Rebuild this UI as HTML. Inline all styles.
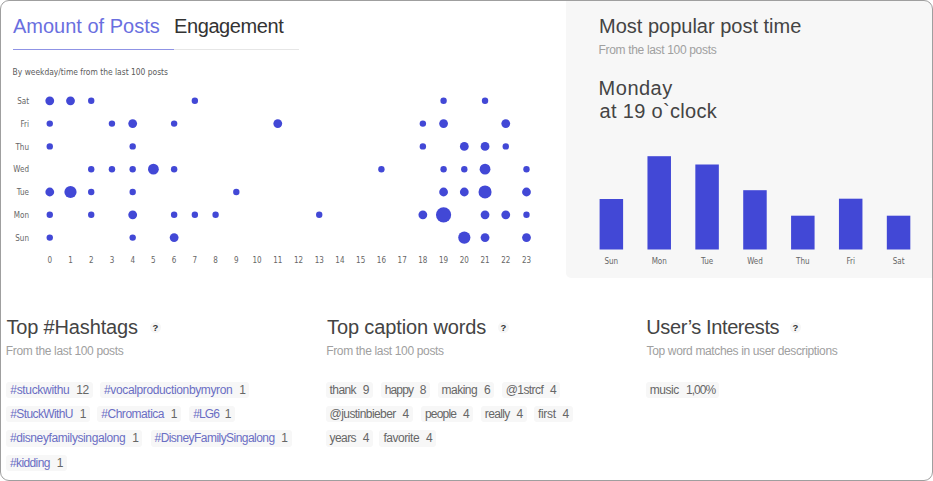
<!DOCTYPE html>
<html><head><meta charset="utf-8">
<style>
*{margin:0;padding:0;box-sizing:border-box}
html,body{width:933px;height:481px;overflow:hidden;background:#fff}
body{font-family:"Liberation Sans",Arial,sans-serif;position:relative}
.card{position:absolute;left:0;top:0;width:933px;height:481px;border-radius:9px;overflow:hidden;background:#fff}
.bord{position:absolute;left:0;top:0;width:933px;height:481px;border:1px solid #9f9f9f;border-radius:9px}
.abs{position:absolute;white-space:nowrap}
.uline{left:13px;top:49px;height:1px;width:286px;background:#e6e6e6}
.uline2{left:13px;top:49px;height:1px;width:161px;background:#8f93e5}
.gray{left:565.5px;top:0;width:368px;height:278.3px;background:#f7f7f7;border-bottom-left-radius:5px}
.t20{font-size:20px;line-height:20px}
.t12{font-size:12px;line-height:12px}
.blue{color:#6a6fe0}
.dark{color:#333}
.h{color:#444}
.sub{color:#a0a0a0}
.q{width:11px;height:11px;border-radius:50%;background:#f6f6f6;color:#333;font-size:9.5px;font-weight:bold;text-align:center;line-height:11.5px}
.tag{position:absolute;height:16.4px;background:#f7f7f7;border-radius:3px;padding:0 4px;font-size:12px;letter-spacing:-0.45px;line-height:16.4px;color:#666;white-space:nowrap;display:flex;justify-content:space-between}
.tag.ht{color:#6a6ec4}
.tag .n{color:#666}
svg text{font-family:"DejaVu Sans Condensed","DejaVu Sans",sans-serif}
svg text.dj{font-family:"DejaVu Sans",sans-serif}
</style></head><body>
<div class="card">
  <div class="abs gray"></div>
  <div class="abs t20 blue" id="tab1" style="left:13px;top:16.27px">Amount of Posts</div>
  <div class="abs t20 dark" id="tab2" style="letter-spacing:-0.4px;left:174px;top:16.27px">Engagement</div>
  <div class="abs uline"></div>
  <div class="abs uline2"></div>

  <div class="abs t20 h" id="mp" style="left:599px;top:16.27px">Most popular post time</div>
  <div class="abs t12 sub" id="mps" style="letter-spacing:-0.33px;left:598.5px;top:43.54px">From the last 100 posts</div>
  <div class="abs t20 h" id="mon1" style="letter-spacing:0.5px;left:598.6px;top:78.07px">Monday</div>
  <div class="abs t20 h" id="mon2" style="letter-spacing:0.33px;left:599.5px;top:100.67px">at 19 o`clock</div>

  <div class="abs t20 h" id="h_hash" style="letter-spacing:-0.15px;left:6.4px;top:317.2px">Top #Hashtags</div>
  <div class="abs q" style="left:149.9px;top:322.3px">?</div>
  <div class="abs t12 sub" id="s_hash" style="letter-spacing:-0.34px;left:5.8px;top:344.84px">From the last 100 posts</div>
  <div class="abs t20 h" id="h_cap" style="letter-spacing:-0.12px;left:327px;top:317.2px">Top caption words</div>
  <div class="abs q" style="left:497.9px;top:322.3px">?</div>
  <div class="abs t12 sub" id="s_cap" style="letter-spacing:-0.34px;left:326.2px;top:344.84px">From the last 100 posts</div>
  <div class="abs t20 h" id="h_int" style="letter-spacing:-0.4px;left:646.3px;top:317.2px">User’s Interests</div>
  <div class="abs q" style="left:790px;top:322.3px">?</div>
  <div class="abs t12 sub" id="s_int" style="letter-spacing:-0.36px;left:646.6px;top:344.84px">Top word matches in user descriptions</div>

  <div class="tag ht" style="left:6.3px;top:381.7px;width:86.4px"><span style="letter-spacing:-0.324px">#stuckwithu</span><span class="n">12</span></div>
  <div class="tag ht" style="left:100px;top:381.7px;width:149.4px"><span style="letter-spacing:-0.365px">#vocalproductionbymyron</span><span class="n">1</span></div>
  <div class="tag ht" style="left:6.3px;top:405.9px;width:83.6px"><span style="letter-spacing:-0.618px">#StuckWithU</span><span class="n">1</span></div>
  <div class="tag ht" style="left:97.3px;top:405.9px;width:83.8px"><span style="letter-spacing:-0.479px">#Chromatica</span><span class="n">1</span></div>
  <div class="tag ht" style="left:189.3px;top:405.9px;width:45.6px"><span style="letter-spacing:-0.9px">#LG6</span><span class="n">1</span></div>
  <div class="tag ht" style="left:5.9px;top:430.3px;width:136.5px"><span style="letter-spacing:-0.392px">#disneyfamilysingalong</span><span class="n">1</span></div>
  <div class="tag ht" style="left:150.5px;top:430.3px;width:141.1px"><span style="letter-spacing:-0.546px">#DisneyFamilySingalong</span><span class="n">1</span></div>
  <div class="tag ht" style="left:5.9px;top:454.6px;width:61.0px"><span style="letter-spacing:-0.593px">#kidding</span><span class="n">1</span></div>
  <div class="tag" style="left:325.6px;top:381.7px;width:47.4px"><span style="letter-spacing:-0.601px">thank</span><span class="n">9</span></div>
  <div class="tag" style="left:380.8px;top:381.7px;width:49.3px"><span style="letter-spacing:-0.888px">happy</span><span class="n">8</span></div>
  <div class="tag" style="left:437.6px;top:381.7px;width:56.6px"><span style="letter-spacing:-0.521px">making</span><span class="n">6</span></div>
  <div class="tag" style="left:501.7px;top:381.7px;width:58.5px"><span style="letter-spacing:-0.580px">@1strcf</span><span class="n">4</span></div>
  <div class="tag" style="left:325.6px;top:405.9px;width:87.2px"><span style="letter-spacing:-0.569px">@justinbieber</span><span class="n">4</span></div>
  <div class="tag" style="left:420.9px;top:405.9px;width:52.4px"><span style="letter-spacing:-0.781px">people</span><span class="n">4</span></div>
  <div class="tag" style="left:480.8px;top:405.9px;width:46.0px"><span style="letter-spacing:-0.620px">really</span><span class="n">4</span></div>
  <div class="tag" style="left:534px;top:405.9px;width:38.8px"><span style="letter-spacing:-0.316px">first</span><span class="n">4</span></div>
  <div class="tag" style="left:325.6px;top:430.3px;width:47.4px"><span style="letter-spacing:-0.601px">years</span><span class="n">4</span></div>
  <div class="tag" style="left:379.4px;top:430.3px;width:56.8px"><span style="letter-spacing:-0.450px">favorite</span><span class="n">4</span></div>
  <div class="tag" style="left:645.8px;top:381.7px;width:73.4px"><span style="letter-spacing:-0.45px">music</span><span class="n" style="letter-spacing:-0.95px">1,00%</span></div>
</div>
<svg id="chart" width="933" height="481" style="position:absolute;left:0;top:0">
<text x="12.6" y="74.7" font-size="8.2" fill="#5a5a5a" class="dj" textLength="155.4" lengthAdjust="spacingAndGlyphs">By weekday/time from the last 100 posts</text>
<text x="29" y="104.0" font-size="8" fill="#666" text-anchor="end">Sat</text>
<circle cx="49.77" cy="100.79" r="4.4" fill="#4248d6"/>
<circle cx="70.50" cy="100.79" r="4.4" fill="#4248d6"/>
<circle cx="91.22" cy="100.79" r="3.2" fill="#4248d6"/>
<circle cx="194.86" cy="100.79" r="3.2" fill="#4248d6"/>
<circle cx="443.58" cy="100.79" r="3.2" fill="#4248d6"/>
<circle cx="485.04" cy="100.79" r="3.2" fill="#4248d6"/>
<text x="29" y="126.8" font-size="8" fill="#666" text-anchor="end">Fri</text>
<circle cx="49.77" cy="123.59" r="3.2" fill="#4248d6"/>
<circle cx="111.95" cy="123.59" r="3.2" fill="#4248d6"/>
<circle cx="132.68" cy="123.59" r="4.4" fill="#4248d6"/>
<circle cx="174.13" cy="123.59" r="3.2" fill="#4248d6"/>
<circle cx="277.77" cy="123.59" r="4.4" fill="#4248d6"/>
<circle cx="422.86" cy="123.59" r="3.2" fill="#4248d6"/>
<circle cx="443.58" cy="123.59" r="4.4" fill="#4248d6"/>
<circle cx="505.76" cy="123.59" r="4.4" fill="#4248d6"/>
<text x="29" y="149.6" font-size="8" fill="#666" text-anchor="end">Thu</text>
<circle cx="49.77" cy="146.39" r="3.2" fill="#4248d6"/>
<circle cx="132.68" cy="146.39" r="3.2" fill="#4248d6"/>
<circle cx="422.86" cy="146.39" r="3.2" fill="#4248d6"/>
<circle cx="464.31" cy="146.39" r="4.4" fill="#4248d6"/>
<circle cx="485.04" cy="146.39" r="4.4" fill="#4248d6"/>
<circle cx="505.76" cy="146.39" r="3.2" fill="#4248d6"/>
<text x="29" y="172.4" font-size="8" fill="#666" text-anchor="end">Wed</text>
<circle cx="91.22" cy="169.19" r="3.2" fill="#4248d6"/>
<circle cx="111.95" cy="169.19" r="3.2" fill="#4248d6"/>
<circle cx="132.68" cy="169.19" r="3.2" fill="#4248d6"/>
<circle cx="153.41" cy="169.19" r="5.4" fill="#4248d6"/>
<circle cx="174.13" cy="169.19" r="3.2" fill="#4248d6"/>
<circle cx="381.40" cy="169.19" r="3.2" fill="#4248d6"/>
<circle cx="443.58" cy="169.19" r="3.2" fill="#4248d6"/>
<circle cx="464.31" cy="169.19" r="3.2" fill="#4248d6"/>
<circle cx="485.04" cy="169.19" r="5.4" fill="#4248d6"/>
<circle cx="526.49" cy="169.19" r="3.2" fill="#4248d6"/>
<text x="29" y="195.2" font-size="8" fill="#666" text-anchor="end">Tue</text>
<circle cx="49.77" cy="191.99" r="4.4" fill="#4248d6"/>
<circle cx="70.50" cy="191.99" r="6.1" fill="#4248d6"/>
<circle cx="91.22" cy="191.99" r="3.2" fill="#4248d6"/>
<circle cx="132.68" cy="191.99" r="3.2" fill="#4248d6"/>
<circle cx="236.31" cy="191.99" r="3.2" fill="#4248d6"/>
<circle cx="443.58" cy="191.99" r="4.4" fill="#4248d6"/>
<circle cx="464.31" cy="191.99" r="4.4" fill="#4248d6"/>
<circle cx="485.04" cy="191.99" r="6.55" fill="#4248d6"/>
<circle cx="526.49" cy="191.99" r="4.4" fill="#4248d6"/>
<text x="29" y="218.0" font-size="8" fill="#666" text-anchor="end">Mon</text>
<circle cx="49.77" cy="214.79" r="3.2" fill="#4248d6"/>
<circle cx="91.22" cy="214.79" r="3.2" fill="#4248d6"/>
<circle cx="132.68" cy="214.79" r="4.4" fill="#4248d6"/>
<circle cx="174.13" cy="214.79" r="3.2" fill="#4248d6"/>
<circle cx="194.86" cy="214.79" r="3.2" fill="#4248d6"/>
<circle cx="215.59" cy="214.79" r="3.2" fill="#4248d6"/>
<circle cx="319.22" cy="214.79" r="3.2" fill="#4248d6"/>
<circle cx="422.86" cy="214.79" r="4.4" fill="#4248d6"/>
<circle cx="443.58" cy="214.79" r="7.6" fill="#4248d6"/>
<circle cx="485.04" cy="214.79" r="4.4" fill="#4248d6"/>
<circle cx="505.76" cy="214.79" r="4.4" fill="#4248d6"/>
<circle cx="526.49" cy="214.79" r="3.2" fill="#4248d6"/>
<text x="29" y="240.8" font-size="8" fill="#666" text-anchor="end">Sun</text>
<circle cx="49.77" cy="237.59" r="3.2" fill="#4248d6"/>
<circle cx="132.68" cy="237.59" r="3.2" fill="#4248d6"/>
<circle cx="174.13" cy="237.59" r="4.4" fill="#4248d6"/>
<circle cx="464.31" cy="237.59" r="6.1" fill="#4248d6"/>
<circle cx="485.04" cy="237.59" r="4.4" fill="#4248d6"/>
<circle cx="526.49" cy="237.59" r="4.4" fill="#4248d6"/>
<text x="49.77" y="263" font-size="8" fill="#666" text-anchor="middle">0</text>
<text x="70.50" y="263" font-size="8" fill="#666" text-anchor="middle">1</text>
<text x="91.22" y="263" font-size="8" fill="#666" text-anchor="middle">2</text>
<text x="111.95" y="263" font-size="8" fill="#666" text-anchor="middle">3</text>
<text x="132.68" y="263" font-size="8" fill="#666" text-anchor="middle">4</text>
<text x="153.41" y="263" font-size="8" fill="#666" text-anchor="middle">5</text>
<text x="174.13" y="263" font-size="8" fill="#666" text-anchor="middle">6</text>
<text x="194.86" y="263" font-size="8" fill="#666" text-anchor="middle">7</text>
<text x="215.59" y="263" font-size="8" fill="#666" text-anchor="middle">8</text>
<text x="236.31" y="263" font-size="8" fill="#666" text-anchor="middle">9</text>
<text x="257.04" y="263" font-size="8" fill="#666" text-anchor="middle">10</text>
<text x="277.77" y="263" font-size="8" fill="#666" text-anchor="middle">11</text>
<text x="298.49" y="263" font-size="8" fill="#666" text-anchor="middle">12</text>
<text x="319.22" y="263" font-size="8" fill="#666" text-anchor="middle">13</text>
<text x="339.95" y="263" font-size="8" fill="#666" text-anchor="middle">14</text>
<text x="360.68" y="263" font-size="8" fill="#666" text-anchor="middle">15</text>
<text x="381.40" y="263" font-size="8" fill="#666" text-anchor="middle">16</text>
<text x="402.13" y="263" font-size="8" fill="#666" text-anchor="middle">17</text>
<text x="422.86" y="263" font-size="8" fill="#666" text-anchor="middle">18</text>
<text x="443.58" y="263" font-size="8" fill="#666" text-anchor="middle">19</text>
<text x="464.31" y="263" font-size="8" fill="#666" text-anchor="middle">20</text>
<text x="485.04" y="263" font-size="8" fill="#666" text-anchor="middle">21</text>
<text x="505.76" y="263" font-size="8" fill="#666" text-anchor="middle">22</text>
<text x="526.49" y="263" font-size="8" fill="#666" text-anchor="middle">23</text>
<rect x="599.60" y="199" width="23.5" height="50.5" fill="#4248d6"/>
<text x="611.35" y="263.7" font-size="8" fill="#666" text-anchor="middle">Sun</text>
<rect x="647.47" y="156.2" width="23.5" height="93.3" fill="#4248d6"/>
<text x="659.22" y="263.7" font-size="8" fill="#666" text-anchor="middle">Mon</text>
<rect x="695.34" y="164.5" width="23.5" height="85.0" fill="#4248d6"/>
<text x="707.09" y="263.7" font-size="8" fill="#666" text-anchor="middle">Tue</text>
<rect x="743.21" y="190.2" width="23.5" height="59.3" fill="#4248d6"/>
<text x="754.96" y="263.7" font-size="8" fill="#666" text-anchor="middle">Wed</text>
<rect x="791.08" y="215.7" width="23.5" height="33.8" fill="#4248d6"/>
<text x="802.83" y="263.7" font-size="8" fill="#666" text-anchor="middle">Thu</text>
<rect x="838.95" y="198.7" width="23.5" height="50.8" fill="#4248d6"/>
<text x="850.70" y="263.7" font-size="8" fill="#666" text-anchor="middle">Fri</text>
<rect x="886.82" y="215.7" width="23.5" height="33.8" fill="#4248d6"/>
<text x="898.57" y="263.7" font-size="8" fill="#666" text-anchor="middle">Sat</text>
</svg>
<div class="bord"></div>
</body></html>
